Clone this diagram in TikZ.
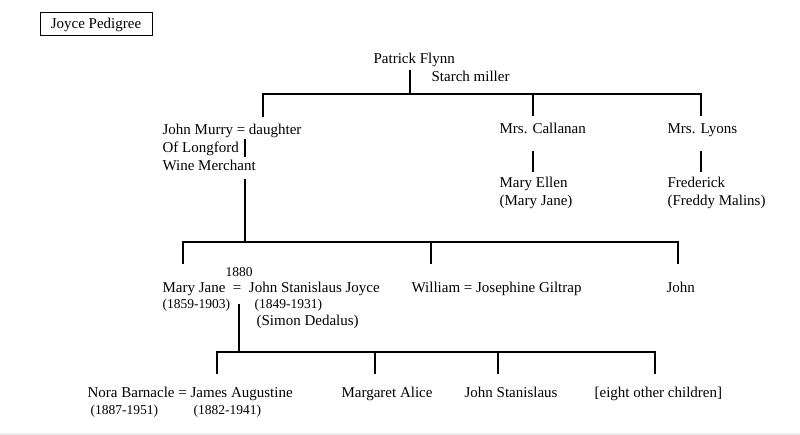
\documentclass[tikz,border=0pt]{standalone}
\usepackage{fontspec}
\setmainfont{Liberation Serif}
\begin{document}
\begin{tikzpicture}[x=1pt,y=-1pt,line width=1.2pt,
		person/.style={anchor=base west,inner sep=0pt,text height=10.5pt,text depth=3.5pt,font=\fontsize{15}{17.5}\selectfont},
		dates/.style={anchor=base west,inner sep=0pt,font=\fontsize{13.5}{16}\selectfont}]
				\useasboundingbox (0,0) rectangle (800,435);
				\fill[black!7] (0,432.5) rectangle (800,435);
				\node (title) at (96,24.5) [draw,line width=1pt,minimum width=112pt,minimum height=23pt,inner sep=0pt,font=\fontsize{15}{17.5}\selectfont] {Joyce Pedigree};
				\node (flynn) at (373,64)         [person] {Patrick Flynn};
				\node (miller) at (431,82)        [person] {Starch miller};
				\node (murry) at (162,135)        [person] {John Murry = daughter};
				\node (longford) at (162,153)     [person] {Of Longford};
				\node (wine) at (162,171)         [person] {Wine Merchant};
				\node (callanan) at (499,134)     [person] {Mrs. Callanan};
				\node (maryellen) at (499,188)    [person] {Mary Ellen};
				\node (maryjanea) at (499,206)    [person] {(Mary Jane)};
				\node (lyons) at (667,134)        [person] {Mrs. Lyons};
				\node (frederick) at (667,188)    [person] {Frederick};
				\node (freddy) at (667,206)       [person] {(Freddy Malins)};
				\node (wed) at (225,277)          [dates] {1880};
				\node (maryjane) at (162,293)     [person] {Mary Jane\enspace=\enspace John Stanislaus Joyce};
				\node (mjyears) at (162,309)      [dates] {(1859-1903)};
				\node (jsyears) at (254,309)      [dates] {(1849-1931)};
				\node (simon) at (256,326)        [person] {(Simon Dedalus)};
				\node (william) at (411,293)      [person] {William = Josephine Giltrap};
				\node (john) at (666,293)         [person] {John};
				\node (nora) at (87,397)          [person] {Nora Barnacle = James Augustine};
				\node (norayears) at (90,414)     [dates] {(1887-1951)};
				\node (jayears) at (193,414)      [dates] {(1882-1941)};
				\node (margaret) at (341,397)     [person] {Margaret Alice};
				\node (jstan) at (464,397)        [person] {John Stanislaus};
				\node (others) at (594,397)       [person] {[eight other children]};
				\coordinate (fl0) at (410,94);
				\coordinate (fl1) at (263,94);
				\coordinate (fl2) at (533,94);
				\coordinate (fl3) at (701,94);
				\coordinate (mu0) at (245,242);
				\coordinate (mu1) at (183,242);
				\coordinate (mu2) at (431,242);
				\coordinate (mu3) at (678,242);
				\coordinate (jo0) at (239,352);
				\coordinate (jo1) at (217,352);
				\coordinate (jo2) at (375,352);
				\coordinate (jo3) at (498,352);
				\coordinate (jo4) at (655,352);
				\draw[-] ([yshift=-1.5pt]flynn.south -| fl0) -- (fl0);
				\draw[-] ([yshift=6.5pt]murry.north -| fl1) -- (fl1) -- (fl3) -- ([yshift=6.5pt]lyons.north -| fl3);
				\draw[-] (fl2) -- ([yshift=6.5pt]callanan.north -| fl2);
				\draw[-] ([yshift=-12.5pt]callanan.south -| fl2) -- ([yshift=4.5pt]maryellen.north -| fl2);
				\draw[-] ([yshift=-12.5pt]lyons.south -| fl3) -- ([yshift=4.5pt]frederick.north -| fl3);
				\draw[-] (murry.south -| mu0) -- ([yshift=2.5pt]wine.north -| mu0);
				\draw[-] ([yshift=-3.5pt]wine.south -| mu0) -- (mu0);
				\draw[-] ([yshift=18pt]maryjane.north -| mu1) -- (mu1) -- (mu3) -- ([yshift=18pt]john.north -| mu3);
				\draw[-] (mu2) -- ([yshift=18pt]william.north -| mu2);
				\draw[-] ([yshift=-6.5pt]maryjane.south -| jo0) -- (jo0);
				\draw[-] ([yshift=11.5pt]nora.north -| jo1) -- (jo1) -- (jo4) -- ([yshift=11.5pt]others.north -| jo4);
				\draw[-] (jo2) -- ([yshift=11.5pt]margaret.north -| jo2);
				\draw[-] (jo3) -- ([yshift=11.5pt]jstan.north -| jo3);
			\end{tikzpicture}
\end{document}
